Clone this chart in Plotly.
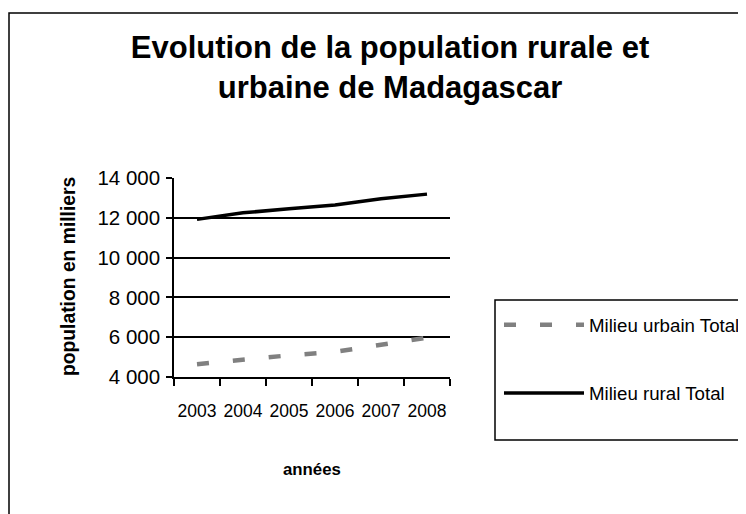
import plotly.graph_objects as go

# ---- data ----
years = ["2003", "2004", "2005", "2006", "2007", "2008"]
urbain = [4640, 4890, 5090, 5260, 5600, 5980]
rural = [11920, 12250, 12450, 12640, 12960, 13190]
y_tick_vals = [4000, 6000, 8000, 10000, 12000, 14000]
y_tick_text = ["4 000", "6 000", "8 000", "10 000", "12 000", "14 000"]

# ---- layout geometry (pixels in the final page; page body has an 8px margin) ----
OFF = 8
W, H = 746 - OFF, 514 - OFF
PL, PR, PT, PB = 174 - OFF, 450 - OFF, 178 - OFF, 377 - OFF  # plot area bounds


def px_x(p):
    return (p - OFF - PL) / (PR - PL)


def px_y(p):
    return (PB - (p - OFF)) / (PB - PT)


FONT = "Liberation Sans, Arial, sans-serif"

fig = go.Figure()
fig.add_trace(go.Scatter(
    x=years, y=urbain, mode="lines", name="Milieu urbain Total",
    line=dict(color="#808080", width=4.5, dash="12px,24px"),
    legendgroup="u",
))
fig.add_trace(go.Scatter(
    x=years, y=rural, mode="lines", name="Milieu rural Total",
    line=dict(color="black", width=3.5),
    legendgroup="r",
))

fig.update_layout(
    width=W, height=H,
    margin=dict(l=PL, r=W - PR, t=PT, b=H - PB, pad=0, autoexpand=False),
    paper_bgcolor="white", plot_bgcolor="white",
    font=dict(family=FONT, size=18, color="black"),
    title=dict(
        text="<b>Evolution de la population rurale et<br>urbaine de Madagascar</b>",
        font=dict(size=31, family=FONT, color="black"),
        x=(390 - OFF) / W, xanchor="center", xref="container",
        y=1 - (58 - OFF) / H, yanchor="middle", yref="container",
    ),
    showlegend=True,
    legend=dict(
        x=px_x(499), y=px_y(306), xanchor="left", yanchor="top",
        bgcolor="rgba(0,0,0,0)", borderwidth=0,
        font=dict(size=18.7, family=FONT, color="black"),
        itemwidth=80, tracegroupgap=41,
    ),
)

fig.update_xaxes(
    type="category", range=[-0.5, 5.5],
    tickson="boundaries", ticks="outside", ticklen=7, tickwidth=1.5, tickcolor="black",
    showline=True, linecolor="black", linewidth=1.5, showgrid=False, zeroline=False,
    tickfont=dict(size=17.5), tickangle=0, ticklabelstandoff=17, fixedrange=True,
)
fig.update_yaxes(
    range=[4000, 14000], tickvals=y_tick_vals, ticktext=y_tick_text,
    ticks="outside", ticklen=6, tickwidth=1.5, tickcolor="black",
    showline=True, linecolor="black", linewidth=1.5,
    showgrid=True, gridcolor="black", gridwidth=1.5, zeroline=False,
    tickfont=dict(size=20.5), ticklabelstandoff=2, fixedrange=True,
)

# axis titles
fig.add_annotation(text="<b>années</b>", xref="paper", yref="paper",
                   x=px_x(312), y=px_y(469), xanchor="center", yanchor="middle",
                   showarrow=False, font=dict(size=16.8, family=FONT, color="black"))
fig.add_annotation(text="<b>population en milliers</b>", xref="paper", yref="paper",
                   x=px_x(68), y=px_y(277), xanchor="center", yanchor="middle",
                   textangle=-90, showarrow=False,
                   font=dict(size=19.3, family=FONT, color="black"))

# outer chart border (left edge kept just inside the figure) and legend frame
fig.add_shape(type="rect", xref="paper", yref="paper",
              x0=px_x(OFF + 1), x1=px_x(760), y0=px_y(13), y1=px_y(530),
              line=dict(color="black", width=1.5), layer="below")
fig.add_shape(type="rect", xref="paper", yref="paper",
              x0=px_x(495), x1=px_x(760), y0=px_y(300), y1=px_y(440),
              line=dict(color="black", width=1.5), layer="below")

fig.write_html("out.html")
